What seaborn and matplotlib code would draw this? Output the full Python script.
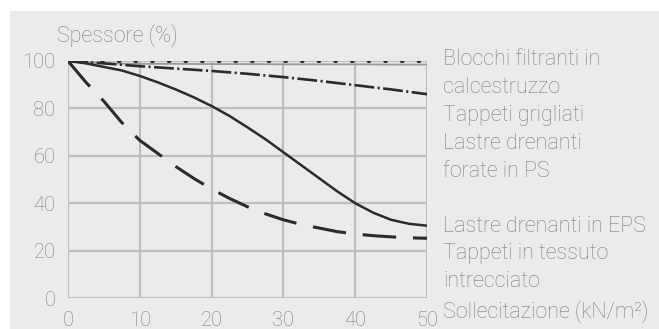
import numpy as np
import pandas as pd
import matplotlib
matplotlib.use("Agg")
import matplotlib.pyplot as plt
from matplotlib.patches import Rectangle
import seaborn as sns

# data (Spessore % vs Sollecitazione kN/m2)
x_coarse = [0, 5, 10, 15, 20, 25, 30, 35, 40, 45, 50]
x_fine = [0, 2.5, 5, 7.5, 10, 12.5, 15, 17.5, 20, 22.5, 25, 27.5,
          30, 32.5, 35, 37.5, 40, 42.5, 45, 47.5, 50]

blocchi = [100, 100, 100, 100, 100, 100, 100, 100, 100, 100, 100]
grigliati = [100, 99.0, 98.8, 98.8, 98.7, 98.7, 98.6, 98.6, 98.6, 98.5, 98.5]
forate_ps = [100, 99.0, 97.8, 96.8, 95.8, 94.6, 93.2, 91.6, 89.8, 88.0, 86.0]
eps = [100, 99, 97.5, 96, 93.7, 91, 88, 84.7, 81, 76.8, 72, 67,
       61.5, 56, 50.5, 45, 40, 36, 33, 31.3, 30.5]
tessuto = [100, 91, 83, 74, 66.5, 61, 55.5, 50.5, 46, 42, 38.5, 35.5,
           33, 31, 29.5, 28, 27, 26.3, 25.8, 25.4, 25.2]

y_ticks = [0, 20, 40, 60, 80, 100]
x_ticks = [0, 10, 20, 30, 40, 50]
ylabel = "Spessore (%)"
xlabel = "Sollecitazione (kN/m²)"
labels_top = ["Blocchi filtranti in", "calcestruzzo", "Tappeti grigliati",
              "Lastre drenanti", "forate in PS"]
labels_bottom = ["Lastre drenanti in EPS", "Tappeti in tessuto", "intrecciato"]

sns.set_style("white")
plt.rcParams['font.family'] = ['Roboto', 'DejaVu Sans']

W, H = 659, 329
bg = "#ebebeb"
grid_c = "#bebebe"
txt_c = "#7c7c7c"
line_c = "#2b2b2b"

fig = plt.figure(figsize=(W / 100, H / 100), dpi=100)
fig.patch.set_facecolor("white")
fig.patches.append(Rectangle((10 / W, 0), (W - 10) / W, (H - 11) / H,
                             transform=fig.transFigure, facecolor=bg,
                             edgecolor="none", zorder=-10))

x0, x1, y0, y1 = 68, 427, 298, 61
ax = fig.add_axes([x0 / W, (H - y0) / H, (x1 - x0) / W, (y0 - y1) / H])
ax.set_facecolor(bg)

df1 = pd.DataFrame({"x": x_coarse, "blocchi": blocchi,
                    "grigliati": grigliati, "forate": forate_ps})
df2 = pd.DataFrame({"x": x_fine, "eps": eps, "tessuto": tessuto})

sns.lineplot(data=df1, x="x", y="grigliati", ax=ax, color="#9a9a9a", lw=1.3)
sns.lineplot(data=df1, x="x", y="blocchi", ax=ax, color=line_c, lw=2.2,
             dashes=(0.45, 5.0), dash_capstyle="round")
sns.lineplot(data=df1, x="x", y="forate", ax=ax, color=line_c, lw=1.9,
             dashes=(7.5, 1.3, 0.8, 1.3))
sns.lineplot(data=df2, x="x", y="eps", ax=ax, color=line_c, lw=1.8)
sns.lineplot(data=df2, x="x", y="tessuto", ax=ax, color=line_c, lw=2.2,
             dashes=(11.0, 5.5))

ax.set_xlim(0, 50)
ax.set_ylim(0, 100)
ax.set_xticks(x_ticks)
ax.set_yticks(y_ticks)
ax.grid(True, color=grid_c, lw=1.6)
ax.set_axisbelow(True)
for s in ax.spines.values():
    s.set_visible(False)
ax.tick_params(length=5, width=1.6, color=grid_c, labelcolor=txt_c,
               labelsize=14.5, pad=4)
for t in ax.get_xticklabels() + ax.get_yticklabels():
    t.set_fontweight("light")
ax.set_xlabel("")
ax.set_ylabel("")

tk = dict(color=txt_c, fontsize=15.5, fontweight="light", va="baseline",
          ha="left", transform=fig.transFigure)
fig.text(57 / W, 1 - 42 / H, ylabel, **tk)
for i, s in enumerate(labels_top):
    fig.text(443 / W, 1 - (65 + 28 * i) / H, s, **tk)
for i, s in enumerate(labels_bottom):
    fig.text(443 / W, 1 - (232 + 27.5 * i) / H, s, **tk)
fig.text(443 / W, 1 - 318 / H, xlabel, **tk)

fig.savefig("out.png", dpi=100)
